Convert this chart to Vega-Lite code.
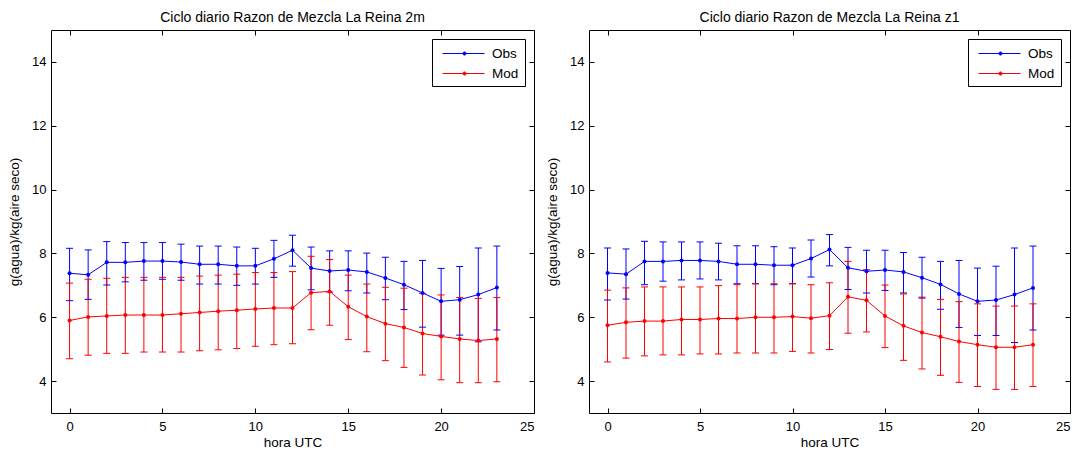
{
  "$schema": "https://vega.github.io/schema/vega-lite/v6.json",
  "background": "white",
  "padding": {"left": 7, "top": 10, "right": 6, "bottom": 2},
  "config": {
    "font": "Liberation Sans",
    "view": {"stroke": "black", "strokeWidth": 1},
    "axis": {"grid": false, "domain": false, "tickColor": "black", "labelColor": "black", "titleColor": "black", "labelFontSize": 13, "titleFontSize": 13.5, "titleFontWeight": "normal", "tickSize": -5, "labelFont": "Liberation Sans", "titleFont": "Liberation Sans"},
    "title": {"fontSize": 14, "fontWeight": "normal", "color": "black", "font": "Liberation Sans", "offset": 5},
    "legend": {"orient": "top-right", "offset": 9, "strokeColor": "black", "fillColor": "white", "padding": 6, "rowPadding": 5, "labelFontSize": 13.5, "labelColor": "black", "labelFont": "Liberation Sans", "title": null, "symbolSize": 256, "symbolStrokeWidth": 1, "labelOffset": 37, "symbolType": "M-0.5,0L4.75,0M2.45,0A0.2,0.2,0,1,1,2.05,0A0.2,0.2,0,1,1,2.45,0"}
  },
  "resolve": {"scale": {"color": "independent"}, "legend": {"color": "independent"}},
  "spacing": 10,
  "data": {"values": [
    {"panel":"2m","series":"Obs","hour":0,"mean":7.38,"lo":6.52,"hi":8.16},
    {"panel":"2m","series":"Obs","hour":1,"mean":7.33,"lo":6.56,"hi":8.11},
    {"panel":"2m","series":"Obs","hour":2,"mean":7.72,"lo":7.01,"hi":8.37},
    {"panel":"2m","series":"Obs","hour":3,"mean":7.72,"lo":7.11,"hi":8.34},
    {"panel":"2m","series":"Obs","hour":4,"mean":7.76,"lo":7.16,"hi":8.34},
    {"panel":"2m","series":"Obs","hour":5,"mean":7.76,"lo":7.19,"hi":8.34},
    {"panel":"2m","series":"Obs","hour":6,"mean":7.73,"lo":7.16,"hi":8.29},
    {"panel":"2m","series":"Obs","hour":7,"mean":7.66,"lo":7.04,"hi":8.23},
    {"panel":"2m","series":"Obs","hour":8,"mean":7.66,"lo":7.04,"hi":8.23},
    {"panel":"2m","series":"Obs","hour":9,"mean":7.61,"lo":7.00,"hi":8.20},
    {"panel":"2m","series":"Obs","hour":10,"mean":7.61,"lo":7.04,"hi":8.16},
    {"panel":"2m","series":"Obs","hour":11,"mean":7.83,"lo":7.25,"hi":8.41},
    {"panel":"2m","series":"Obs","hour":12,"mean":8.10,"lo":7.60,"hi":8.57},
    {"panel":"2m","series":"Obs","hour":13,"mean":7.54,"lo":6.86,"hi":8.20},
    {"panel":"2m","series":"Obs","hour":14,"mean":7.45,"lo":6.79,"hi":8.08},
    {"panel":"2m","series":"Obs","hour":15,"mean":7.48,"lo":6.83,"hi":8.08},
    {"panel":"2m","series":"Obs","hour":16,"mean":7.42,"lo":6.76,"hi":8.01},
    {"panel":"2m","series":"Obs","hour":17,"mean":7.23,"lo":6.55,"hi":7.88},
    {"panel":"2m","series":"Obs","hour":18,"mean":7.02,"lo":6.24,"hi":7.75},
    {"panel":"2m","series":"Obs","hour":19,"mean":6.76,"lo":5.69,"hi":7.78},
    {"panel":"2m","series":"Obs","hour":20,"mean":6.50,"lo":5.44,"hi":7.53},
    {"panel":"2m","series":"Obs","hour":21,"mean":6.55,"lo":5.44,"hi":7.59},
    {"panel":"2m","series":"Obs","hour":22,"mean":6.71,"lo":5.23,"hi":8.17},
    {"panel":"2m","series":"Obs","hour":23,"mean":6.93,"lo":5.60,"hi":8.23},
    {"panel":"2m","series":"Mod","hour":0,"mean":5.90,"lo":4.70,"hi":7.07},
    {"panel":"2m","series":"Mod","hour":1,"mean":6.01,"lo":4.81,"hi":7.19},
    {"panel":"2m","series":"Mod","hour":2,"mean":6.04,"lo":4.87,"hi":7.22},
    {"panel":"2m","series":"Mod","hour":3,"mean":6.07,"lo":4.87,"hi":7.25},
    {"panel":"2m","series":"Mod","hour":4,"mean":6.07,"lo":4.91,"hi":7.25},
    {"panel":"2m","series":"Mod","hour":5,"mean":6.07,"lo":4.91,"hi":7.25},
    {"panel":"2m","series":"Mod","hour":6,"mean":6.11,"lo":4.91,"hi":7.25},
    {"panel":"2m","series":"Mod","hour":7,"mean":6.15,"lo":4.95,"hi":7.29},
    {"panel":"2m","series":"Mod","hour":8,"mean":6.19,"lo":4.98,"hi":7.32},
    {"panel":"2m","series":"Mod","hour":9,"mean":6.22,"lo":5.02,"hi":7.35},
    {"panel":"2m","series":"Mod","hour":10,"mean":6.26,"lo":5.09,"hi":7.40},
    {"panel":"2m","series":"Mod","hour":11,"mean":6.29,"lo":5.14,"hi":7.40},
    {"panel":"2m","series":"Mod","hour":12,"mean":6.29,"lo":5.17,"hi":7.43},
    {"panel":"2m","series":"Mod","hour":13,"mean":6.77,"lo":5.61,"hi":7.91},
    {"panel":"2m","series":"Mod","hour":14,"mean":6.81,"lo":5.75,"hi":7.81},
    {"panel":"2m","series":"Mod","hour":15,"mean":6.33,"lo":5.30,"hi":7.32},
    {"panel":"2m","series":"Mod","hour":16,"mean":6.02,"lo":4.92,"hi":7.04},
    {"panel":"2m","series":"Mod","hour":17,"mean":5.80,"lo":4.64,"hi":6.94},
    {"panel":"2m","series":"Mod","hour":18,"mean":5.68,"lo":4.43,"hi":6.91},
    {"panel":"2m","series":"Mod","hour":19,"mean":5.49,"lo":4.19,"hi":6.75},
    {"panel":"2m","series":"Mod","hour":20,"mean":5.40,"lo":4.04,"hi":6.70},
    {"panel":"2m","series":"Mod","hour":21,"mean":5.32,"lo":3.95,"hi":6.62},
    {"panel":"2m","series":"Mod","hour":22,"mean":5.27,"lo":3.95,"hi":6.59},
    {"panel":"2m","series":"Mod","hour":23,"mean":5.32,"lo":3.98,"hi":6.62},
    {"panel":"z1","series":"Obs","hour":0,"mean":7.39,"lo":6.54,"hi":8.17},
    {"panel":"z1","series":"Obs","hour":1,"mean":7.35,"lo":6.57,"hi":8.14},
    {"panel":"z1","series":"Obs","hour":2,"mean":7.75,"lo":7.02,"hi":8.38},
    {"panel":"z1","series":"Obs","hour":3,"mean":7.75,"lo":7.13,"hi":8.36},
    {"panel":"z1","series":"Obs","hour":4,"mean":7.78,"lo":7.17,"hi":8.36},
    {"panel":"z1","series":"Obs","hour":5,"mean":7.78,"lo":7.20,"hi":8.36},
    {"panel":"z1","series":"Obs","hour":6,"mean":7.75,"lo":7.17,"hi":8.32},
    {"panel":"z1","series":"Obs","hour":7,"mean":7.66,"lo":7.05,"hi":8.24},
    {"panel":"z1","series":"Obs","hour":8,"mean":7.66,"lo":7.05,"hi":8.24},
    {"panel":"z1","series":"Obs","hour":9,"mean":7.63,"lo":7.02,"hi":8.21},
    {"panel":"z1","series":"Obs","hour":10,"mean":7.63,"lo":7.05,"hi":8.17},
    {"panel":"z1","series":"Obs","hour":11,"mean":7.84,"lo":7.26,"hi":8.42},
    {"panel":"z1","series":"Obs","hour":12,"mean":8.12,"lo":7.61,"hi":8.59},
    {"panel":"z1","series":"Obs","hour":13,"mean":7.55,"lo":6.87,"hi":8.19},
    {"panel":"z1","series":"Obs","hour":14,"mean":7.44,"lo":6.76,"hi":8.10},
    {"panel":"z1","series":"Obs","hour":15,"mean":7.48,"lo":6.84,"hi":8.10},
    {"panel":"z1","series":"Obs","hour":16,"mean":7.42,"lo":6.76,"hi":8.03},
    {"panel":"z1","series":"Obs","hour":17,"mean":7.24,"lo":6.60,"hi":7.88},
    {"panel":"z1","series":"Obs","hour":18,"mean":7.03,"lo":6.25,"hi":7.75},
    {"panel":"z1","series":"Obs","hour":19,"mean":6.73,"lo":5.68,"hi":7.78},
    {"panel":"z1","series":"Obs","hour":20,"mean":6.50,"lo":5.43,"hi":7.54},
    {"panel":"z1","series":"Obs","hour":21,"mean":6.54,"lo":5.43,"hi":7.60},
    {"panel":"z1","series":"Obs","hour":22,"mean":6.71,"lo":5.21,"hi":8.17},
    {"panel":"z1","series":"Obs","hour":23,"mean":6.92,"lo":5.60,"hi":8.23},
    {"panel":"z1","series":"Mod","hour":0,"mean":5.75,"lo":4.60,"hi":6.85},
    {"panel":"z1","series":"Mod","hour":1,"mean":5.84,"lo":4.72,"hi":6.92},
    {"panel":"z1","series":"Mod","hour":2,"mean":5.88,"lo":4.79,"hi":6.95},
    {"panel":"z1","series":"Mod","hour":3,"mean":5.88,"lo":4.82,"hi":6.95},
    {"panel":"z1","series":"Mod","hour":4,"mean":5.93,"lo":4.82,"hi":6.95},
    {"panel":"z1","series":"Mod","hour":5,"mean":5.93,"lo":4.85,"hi":6.95},
    {"panel":"z1","series":"Mod","hour":6,"mean":5.96,"lo":4.85,"hi":6.99},
    {"panel":"z1","series":"Mod","hour":7,"mean":5.96,"lo":4.88,"hi":7.02},
    {"panel":"z1","series":"Mod","hour":8,"mean":6.00,"lo":4.88,"hi":7.05},
    {"panel":"z1","series":"Mod","hour":9,"mean":6.00,"lo":4.88,"hi":7.05},
    {"panel":"z1","series":"Mod","hour":10,"mean":6.02,"lo":4.93,"hi":7.05},
    {"panel":"z1","series":"Mod","hour":11,"mean":5.97,"lo":4.88,"hi":7.02},
    {"panel":"z1","series":"Mod","hour":12,"mean":6.05,"lo":4.99,"hi":7.08},
    {"panel":"z1","series":"Mod","hour":13,"mean":6.64,"lo":5.50,"hi":7.75},
    {"panel":"z1","series":"Mod","hour":14,"mean":6.53,"lo":5.54,"hi":7.49},
    {"panel":"z1","series":"Mod","hour":15,"mean":6.04,"lo":5.05,"hi":7.01},
    {"panel":"z1","series":"Mod","hour":16,"mean":5.73,"lo":4.65,"hi":6.73},
    {"panel":"z1","series":"Mod","hour":17,"mean":5.52,"lo":4.38,"hi":6.63},
    {"panel":"z1","series":"Mod","hour":18,"mean":5.39,"lo":4.18,"hi":6.56},
    {"panel":"z1","series":"Mod","hour":19,"mean":5.24,"lo":3.96,"hi":6.49},
    {"panel":"z1","series":"Mod","hour":20,"mean":5.14,"lo":3.83,"hi":6.42},
    {"panel":"z1","series":"Mod","hour":21,"mean":5.06,"lo":3.74,"hi":6.35},
    {"panel":"z1","series":"Mod","hour":22,"mean":5.06,"lo":3.74,"hi":6.35},
    {"panel":"z1","series":"Mod","hour":23,"mean":5.14,"lo":3.83,"hi":6.42}
  ]},
  "hconcat": [
    {
      "width": 483, "height": 383,
      "title": "Ciclo diario Razon de Mezcla La Reina 2m",
      "transform": [{"filter": "datum.panel == '2m'"}],
      "resolve": {"axis": {"x": "independent", "y": "independent"}},
      "layer": [
        {"mark": {"type": "rule", "strokeWidth": 1},
         "encoding": {
           "x": {"field": "hour", "type": "quantitative", "scale": {"domain": [-1, 25], "nice": false, "zero": false}, "axis": null},
           "y": {"field": "lo", "type": "quantitative", "scale": {"domain": [3, 15], "nice": false, "zero": false}, "axis": null},
           "y2": {"field": "hi"},
           "color": {"field": "series", "type": "nominal", "scale": {"domain": ["Obs", "Mod"], "range": ["#0000ff", "#ff0000"]}}}},
        {"mark": {"type": "tick", "orient": "horizontal", "size": 7, "thickness": 1, "opacity": 1},
         "encoding": {
           "x": {"field": "hour", "type": "quantitative", "axis": null},
           "y": {"field": "lo", "type": "quantitative", "axis": null},
           "color": {"field": "series", "type": "nominal"}}},
        {"mark": {"type": "tick", "orient": "horizontal", "size": 7, "thickness": 1, "opacity": 1},
         "encoding": {
           "x": {"field": "hour", "type": "quantitative", "axis": null},
           "y": {"field": "hi", "type": "quantitative", "axis": null},
           "color": {"field": "series", "type": "nominal"}}},
        {"mark": {"type": "line", "strokeWidth": 1, "point": {"filled": true, "size": 16}},
         "encoding": {
           "x": {"field": "hour", "type": "quantitative", "axis": {"title": "hora UTC", "values": [0, 5, 10, 15, 20, 25], "labelPadding": 12, "titlePadding": 2}},
           "y": {"field": "mean", "type": "quantitative", "axis": {"title": "g(agua)/kg(aire seco)", "values": [4, 6, 8, 10, 12, 14], "labelPadding": 10, "titlePadding": 10}},
           "color": {"field": "series", "type": "nominal"}}},
        {"mark": {"type": "rule", "opacity": 0},
         "encoding": {
           "x": {"field": "hour", "type": "quantitative", "axis": {"orient": "top", "values": [0, 5, 10, 15, 20, 25], "labels": false, "title": null}},
           "y": {"field": "mean", "type": "quantitative", "axis": {"orient": "right", "values": [4, 6, 8, 10, 12, 14], "labels": false, "title": null}}}}
      ]
    },
    {
      "width": 481, "height": 383,
      "title": "Ciclo diario Razon de Mezcla La Reina z1",
      "transform": [{"filter": "datum.panel == 'z1'"}],
      "resolve": {"axis": {"x": "independent", "y": "independent"}},
      "layer": [
        {"mark": {"type": "rule", "strokeWidth": 1},
         "encoding": {
           "x": {"field": "hour", "type": "quantitative", "scale": {"domain": [-1, 25], "nice": false, "zero": false}, "axis": null},
           "y": {"field": "lo", "type": "quantitative", "scale": {"domain": [3, 15], "nice": false, "zero": false}, "axis": null},
           "y2": {"field": "hi"},
           "color": {"field": "series", "type": "nominal", "scale": {"domain": ["Obs", "Mod"], "range": ["#0000ff", "#ff0000"]}}}},
        {"mark": {"type": "tick", "orient": "horizontal", "size": 7, "thickness": 1, "opacity": 1},
         "encoding": {
           "x": {"field": "hour", "type": "quantitative", "axis": null},
           "y": {"field": "lo", "type": "quantitative", "axis": null},
           "color": {"field": "series", "type": "nominal"}}},
        {"mark": {"type": "tick", "orient": "horizontal", "size": 7, "thickness": 1, "opacity": 1},
         "encoding": {
           "x": {"field": "hour", "type": "quantitative", "axis": null},
           "y": {"field": "hi", "type": "quantitative", "axis": null},
           "color": {"field": "series", "type": "nominal"}}},
        {"mark": {"type": "line", "strokeWidth": 1, "point": {"filled": true, "size": 16}},
         "encoding": {
           "x": {"field": "hour", "type": "quantitative", "axis": {"title": "hora UTC", "values": [0, 5, 10, 15, 20, 25], "labelPadding": 12, "titlePadding": 2}},
           "y": {"field": "mean", "type": "quantitative", "axis": {"title": "g(agua)/kg(aire seco)", "values": [4, 6, 8, 10, 12, 14], "labelPadding": 10, "titlePadding": 10}},
           "color": {"field": "series", "type": "nominal"}}},
        {"mark": {"type": "rule", "opacity": 0},
         "encoding": {
           "x": {"field": "hour", "type": "quantitative", "axis": {"orient": "top", "values": [0, 5, 10, 15, 20, 25], "labels": false, "title": null}},
           "y": {"field": "mean", "type": "quantitative", "axis": {"orient": "right", "values": [4, 6, 8, 10, 12, 14], "labels": false, "title": null}}}}
      ]
    }
  ]
}
